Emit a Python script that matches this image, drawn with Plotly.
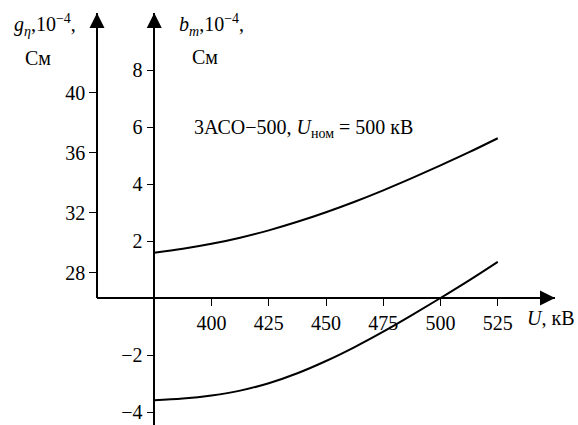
import plotly.graph_objects as go

# Data
U = [375, 387.5, 400, 412.5, 425, 437.5, 450, 462.5, 475, 487.5, 500, 512.5, 525]
g_eta = [29.35, 29.61, 29.94, 30.35, 30.84, 31.41, 32.05, 32.75, 33.51, 34.32, 35.17, 36.05, 36.98]
b_m = [-3.59, -3.53, -3.42, -3.25, -2.99, -2.64, -2.21, -1.72, -1.18, -0.60, 0.0, 0.62, 1.27]

x_ticks = [400, 425, 450, 475, 500, 525]
b_ticks = [-4, -2, 2, 4, 6, 8]
g_ticks = [28, 32, 36, 40]

x_range = [350, 550]
b_range = [-4.456, 10.0]
g_range = [26.33, 45.33]
b_axis_at = 375

W, H = 578, 425
ML, MR, MT, MB = 97, 23, 13, 0
FONT = "Liberation Serif"
fs = 20

x_pos = (0 - b_range[0]) / (b_range[1] - b_range[0])
b_pos = (b_axis_at - x_range[0]) / (x_range[1] - x_range[0])

fig = go.Figure()
fig.add_trace(go.Scatter(x=U, y=g_eta, mode="lines", yaxis="y2",
                         line=dict(color="black", width=2, shape="spline"),
                         showlegend=False, hoverinfo="skip"))
fig.add_trace(go.Scatter(x=U, y=b_m, mode="lines", yaxis="y",
                         line=dict(color="black", width=2, shape="spline"),
                         showlegend=False, hoverinfo="skip"))

axis_common = dict(showgrid=False, zeroline=False, showline=True, linecolor="black",
                   linewidth=1.5, ticks="outside", ticklen=7, tickwidth=1.3,
                   tickcolor="black", tickfont=dict(family=FONT, size=fs, color="black"))

fig.update_layout(
    width=W, height=H,
    margin=dict(l=ML, r=MR, t=MT, b=MB, pad=0),
    paper_bgcolor="white", plot_bgcolor="rgba(0,0,0,0)",
    xaxis=dict(range=x_range, domain=[0, 1], anchor="free", position=x_pos,
               tickvals=x_ticks, automargin=False, **axis_common),
    yaxis=dict(range=b_range, domain=[0, 1], anchor="free", position=b_pos,
               tickvals=b_ticks, ticktext=[str(v).replace("-", "\u2212") for v in b_ticks],
               automargin=False, **axis_common),
    yaxis2=dict(range=g_range, domain=[x_pos, 1], anchor="free", position=0,
                tickvals=g_ticks, automargin=False, **axis_common),
)

def px_to_paper(px, py):
    return (px - ML) / (W - ML - MR), (H - MB - py) / (H - MT - MB)

texts = [
    ("<i>g</i><sub><i>η</i></sub>,10<sup>\u22124</sup>,", 12, 25),
    ("См", 23, 58),
    ("<i>b</i><sub><i>m</i></sub>,10<sup>\u22124</sup>,", 177, 25),
    ("См", 190, 57),
    ("3АСО\u2212500, <i>U</i><sub>ном</sub> = 500 кВ", 192, 128),
    ("<i>U</i>, кВ", 525, 318),
]
for t, px, py in texts:
    xp, yp = px_to_paper(px, py)
    fig.add_annotation(text=t, x=xp, y=yp, xref="paper", yref="paper",
                       xanchor="left", yanchor="middle", showarrow=False,
                       font=dict(family=FONT, size=fs, color="black"))

# Axis arrowheads (paper coordinates at the axis ends)
arrow = dict(showarrow=True, arrowhead=2, arrowsize=2, arrowwidth=1.5,
             arrowcolor="black", text="", standoff=0, xref="paper", yref="paper")
fig.add_annotation(x=0, y=1, ax=0, ay=20, **arrow)
fig.add_annotation(x=b_pos, y=1, ax=0, ay=20, **arrow)
fig.add_annotation(x=1, y=x_pos, ax=-20, ay=0, **arrow)

fig.write_html("out.html", config={"displayModeBar": False},
               post_script="document.body.style.margin='0';")
